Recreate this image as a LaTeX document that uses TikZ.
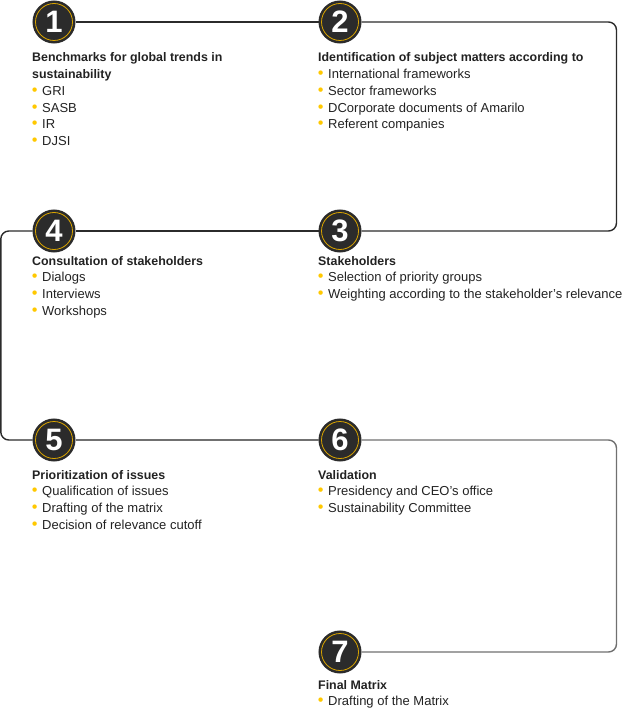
\documentclass[tikz,border=0pt]{standalone}
\usepackage{fontspec}
\setmainfont{Liberation Sans}
\usepackage{xcolor}
\usetikzlibrary{positioning,calc}

\definecolor{stepdark}{HTML}{2B2B2B}
\definecolor{ringgold}{HTML}{D9A400}
\definecolor{dotyellow}{HTML}{FFC800}
\definecolor{linkgrey}{HTML}{707070}
\definecolor{textdark}{HTML}{222222}

\newcommand{\ydot}{\makebox[10pt][l]{\hspace{-0.3pt}\textcolor{dotyellow}{\scalebox{1.25}{\textbullet}}}}
\newcommand{\steptitle}[1]{{\fontsize{12.4}{16.7}\selectfont\bfseries #1}}

\begin{document}
\begin{tikzpicture}[x=1pt, y=-1pt,
    stepnum/.style={circle, fill=stepdark, draw=stepdark, line width=2.6pt, double=ringgold, double distance=0.8pt,
        minimum size=37pt, inner sep=0pt, outer sep=3pt, text=white, font=\fontsize{31}{31}\selectfont\bfseries},
    steptext/.style={anchor=base west, align=left, inner sep=0pt, text=textdark, font=\fontsize{13}{16.7}\selectfont},
    link/.style={draw=stepdark, line width=1.4pt, rounded corners=8pt}]
    \useasboundingbox (0,0) rectangle (625,711);

    % corners of the path
    \coordinate (r2) at (616.5,22);
    \coordinate (r3) at (616.5,231);
    \coordinate (l4) at (0.8,231);
    \coordinate (l5) at (0.8,440);
    \coordinate (r6) at (616.5,440);
    \coordinate (r7) at (616.5,652);

    \node[stepnum] (n1) at (54,22) {1};
    \node[stepnum] (n2) at (340,22) {2};
    \node[stepnum] (n3) at (340,231) {3};
    \node[stepnum] (n4) at (54,231) {4};
    \node[stepnum] (n5) at (54,440) {5};
    \node[stepnum] (n6) at (340,440) {6};
    \node[stepnum] (n7) at (340,652) {7};

    \draw[link] (n1) -- (n2);
    \draw[link] (n2) -- (r2) -- (r3) -- (n3);
    \draw[link] (n3) -- (n4);
    \draw[link] (n4) -- (l4) -- (l5) -- (n5);
    \draw[link, draw=linkgrey] (n5) -- (n6);
    \draw[link, draw=linkgrey] (n6) -- (r6) -- (r7) -- (n7);

    % text blocks sit on the baseline of their last line
    \node[steptext] (t1) at (32,145.5) {\steptitle{Benchmarks for global trends in}\\ \steptitle{sustainability}\\
        \ydot GRI\\ \ydot SASB\\ \ydot IR\\ \ydot DJSI};
    \node[steptext] (t2) at (318,128.8) {\steptitle{Identification of subject matters according to}\\
        \ydot International frameworks\\ \ydot Sector frameworks\\ \ydot DCorporate documents of Amarilo\\ \ydot Referent companies};
    \node[steptext] (t3) at (318,298.4) {\steptitle{Stakeholders}\\
        \ydot Selection of priority groups\\ \ydot Weighting according to the stakeholder’s relevance};
    \node[steptext] (t4) at (32,315.1) {\steptitle{Consultation of stakeholders}\\
        \ydot Dialogs\\ \ydot Interviews\\ \ydot Workshops};
    \node[steptext] (t5) at (32,529.1) {\steptitle{Prioritization of issues}\\
        \ydot Qualification of issues\\ \ydot Drafting of the matrix\\ \ydot Decision of relevance cutoff};
    \node[steptext] (t6) at (318,512.4) {\steptitle{Validation}\\
        \ydot Presidency and CEO’s office\\ \ydot Sustainability Committee};
    \node[steptext] (t7) at (318,705.7) {\steptitle{Final Matrix}\\
        \ydot Drafting of the Matrix};
\end{tikzpicture}
\end{document}
